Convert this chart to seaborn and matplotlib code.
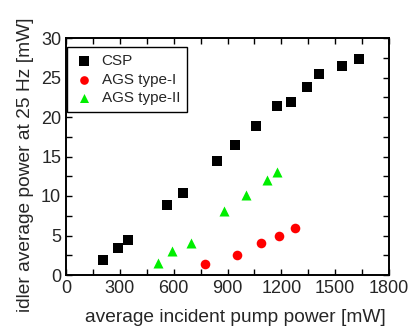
import matplotlib
matplotlib.use("Agg")
import matplotlib.pyplot as plt
from matplotlib.ticker import MultipleLocator
import seaborn as sns
import pandas as pd

csp_x = [208, 291, 347, 561, 650, 840, 942, 1057, 1176, 1252, 1345, 1410, 1536, 1633]
csp_y = [1.9, 3.4, 4.4, 8.9, 10.4, 14.4, 16.4, 18.9, 21.4, 21.9, 23.8, 25.4, 26.4, 27.4]
ags1_x = [775, 951, 1087, 1187, 1278]
ags1_y = [1.35, 2.5, 4.0, 4.95, 5.95]
ags2_x = [511, 592, 694, 882, 1001, 1120, 1177]
ags2_y = [1.5, 3.0, 4.1, 8.1, 10.1, 12.0, 13.1]
series = ["CSP", "AGS type-I", "AGS type-II"]

df_csp = pd.DataFrame({"x": csp_x, "y": csp_y})
df_ags1 = pd.DataFrame({"x": ags1_x, "y": ags1_y})
df_ags2 = pd.DataFrame({"x": ags2_x, "y": ags2_y})

sns.set_style("ticks")
plt.rcParams['font.family'] = ['Liberation Sans', 'DejaVu Sans']

fig = plt.figure(figsize=(4.13, 3.27), dpi=100)
ax = fig.add_axes([66/413, 1-275/327, (389-66)/413, (275-38)/327])

sns.scatterplot(data=df_csp, x="x", y="y", color="black", marker="s",
                s=56, linewidth=0, ax=ax, label=series[0])
sns.scatterplot(data=df_ags1, x="x", y="y", color="#ff0000", marker="o",
                s=48, linewidth=0, ax=ax, label=series[1])
sns.scatterplot(data=df_ags2, x="x", y="y", color="#00ee00", marker="^",
                s=52, linewidth=0, ax=ax, label=series[2])

ax.set_xlim(0, 1800)
ax.set_ylim(0, 30)
ax.xaxis.set_major_locator(MultipleLocator(300))
ax.xaxis.set_minor_locator(MultipleLocator(150))
ax.yaxis.set_major_locator(MultipleLocator(5))
ax.yaxis.set_minor_locator(MultipleLocator(2.5))
ax.tick_params(which="both", direction="in", top=True, right=True, length=4,
               width=1, color="black", labelsize=13, pad=3.5)
for sp in ax.spines.values():
    sp.set_visible(True)
    sp.set_color("black")
    sp.set_linewidth(1.4)

ax.set_xlabel("average incident pump power [mW]", fontsize=13.8)
ax.set_ylabel("idler average power at 25 Hz [mW]", fontsize=13.8)
ax.xaxis.set_label_coords(0.523, -0.143)
ax.yaxis.set_label_coords(-0.10, 0.464)

leg = ax.legend(loc="upper left", bbox_to_anchor=(0.004, 0.961), borderaxespad=0,
                fontsize=11, frameon=True, fancybox=False,
                edgecolor="black", handletextpad=0.5,
                borderpad=0.45, labelspacing=0.3, handlelength=1.3, markerscale=0.9)
leg.get_frame().set_linewidth(1.0)
leg.get_frame().set_alpha(1)

fig.savefig("out.png", dpi=100)
